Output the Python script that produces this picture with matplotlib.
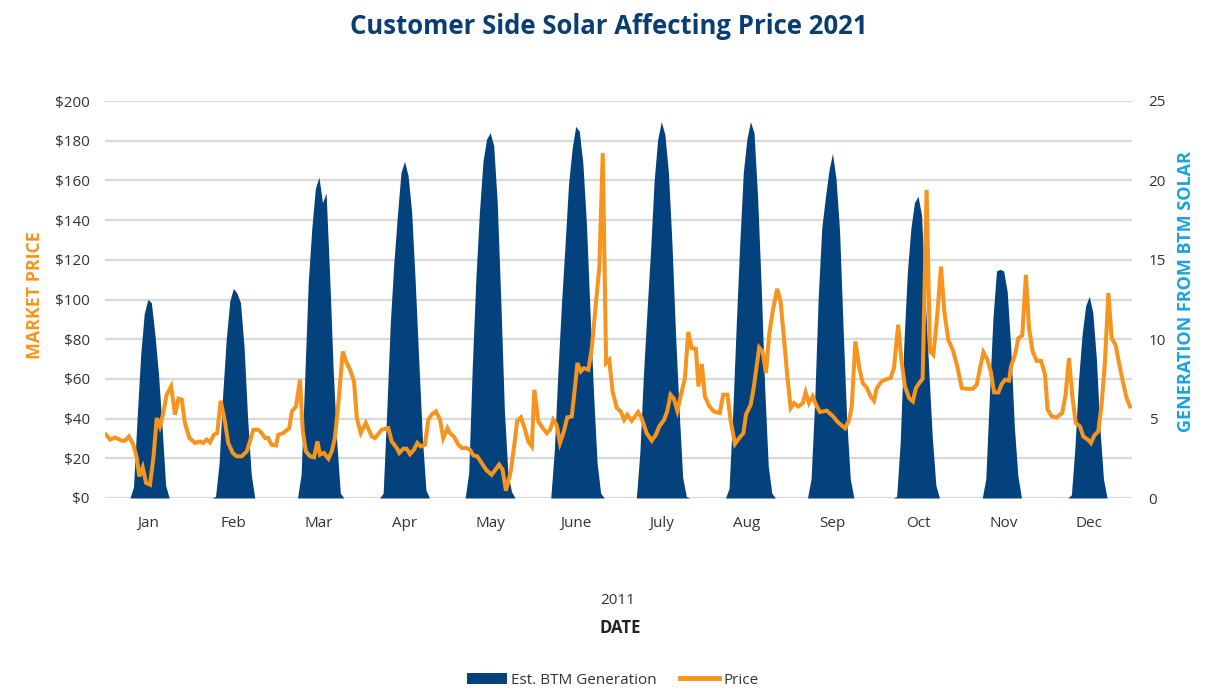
import numpy as np
import matplotlib
matplotlib.use("Agg")
import matplotlib.pyplot as plt
from matplotlib.patches import Patch
from matplotlib.lines import Line2D

plt.rcParams["font.family"] = ["Open Sans", "DejaVu Sans"]

months = ["Jan", "Feb", "Mar", "Apr", "May", "June",
          "July", "Aug", "Sep", "Oct", "Nov", "Dec"]

# typical-day hourly BTM generation (hour 0..23) for each month
gen_jan = [0, 0, 0, 0, 0, 0, 0, 0, 0.7, 5.0, 9.0, 11.6, 12.5, 12.3, 10.3, 7.8, 4.5, 0.8, 0, 0, 0, 0, 0, 0]
gen_feb = [0, 0, 0, 0, 0, 0, 0, 0.1, 2.2, 6.5, 10.0, 12.4, 13.2, 12.9, 12.3, 9.5, 5.0, 1.5, 0, 0, 0, 0, 0, 0]
gen_mar = [0, 0, 0, 0, 0, 0, 0, 1.5, 7.5, 13.6, 17.0, 19.5, 20.2, 18.6, 19.2, 14.0, 8.0, 3.5, 0.3, 0, 0, 0, 0, 0]
gen_apr = [0, 0, 0, 0, 0, 0, 0.3, 5.4, 11.0, 14.8, 17.8, 20.5, 21.2, 20.3, 18.0, 13.6, 8.6, 3.8, 0.5, 0, 0, 0, 0, 0]
gen_may = [0, 0, 0, 0, 0, 0, 1.6, 8.3, 13.8, 18.0, 21.2, 22.6, 23.0, 22.2, 18.6, 12.4, 5.5, 1.5, 0.4, 0, 0, 0, 0, 0]
gen_jun = [0, 0, 0, 0, 0, 0, 3.0, 7.9, 12.2, 15.9, 19.8, 22.0, 23.4, 23.1, 21.1, 17.3, 11.8, 6.6, 2.2, 0.3, 0, 0, 0, 0]
gen_jul = [0, 0, 0, 0, 0, 0, 2.9, 7.8, 11.8, 15.6, 20.0, 22.6, 23.7, 22.9, 20.5, 16.0, 10.3, 5.5, 1.3, 0.1, 0, 0, 0, 0]
gen_aug = [0, 0, 0, 0, 0, 0, 0, 0.6, 5.2, 10.8, 16.0, 20.5, 22.6, 23.7, 23.0, 19.0, 13.4, 6.9, 2.0, 0.3, 0, 0, 0, 0]
gen_sep = [0, 0, 0, 0, 0, 0, 1.2, 6.0, 12.6, 17.0, 18.9, 20.6, 21.7, 20.1, 16.8, 10.6, 4.9, 1.2, 0, 0, 0, 0, 0, 0]
gen_oct = [0, 0, 0, 0, 0, 0, 0.1, 3.5, 9.6, 14.2, 17.0, 18.6, 19.0, 17.8, 12.6, 8.1, 3.8, 0.8, 0, 0, 0, 0, 0, 0]
gen_nov = [0, 0, 0, 0, 0, 0, 0, 1.2, 6.4, 11.3, 14.3, 14.4, 14.3, 13.0, 9.5, 4.5, 1.4, 0, 0, 0, 0, 0, 0, 0]
gen_dec = [0, 0, 0, 0, 0, 0, 0, 0.2, 3.2, 7.4, 10.3, 12.1, 12.7, 11.7, 8.8, 4.4, 1.2, 0, 0, 0, 0, 0, 0, 0]

# market price ($) by day of year
price_day = [
    0.4, 1.8, 3.6, 5.9, 7.1, 8.5, 10.1, 11.3, 12.2, 13.4,
    14.6, 16.0, 17.2, 18.4, 19.5, 20.6, 21.9, 23.5, 24.9, 26.1,
    27.3, 28.4, 30.0, 32.0, 33.8, 34.9, 36.1, 37.3, 38.7, 39.9,
    41.1, 42.6, 43.8, 45.4,
    46.8, 48.6, 50.4, 51.5, 52.7, 54.5, 55.7, 56.9, 58.0, 59.2,
    60.8, 61.6, 63.4, 65.5, 66.4, 67.9, 69.3, 70.3, 71.4, 72.9,
    74.3, 75.5, 76.4, 77.8, 79.4, 80.6, 81.7, 82.9, 84.5, 85.9,
    87.1, 88.5, 89.5, 90.9, 92.7,
    94.8, 96.0, 98.3, 100.7, 101.9, 103.7, 104.6, 106.0, 107.2, 108.4,
    109.8, 111.0, 112.2, 113.7, 114.9, 116.1, 117.6, 119.1, 120.2, 121.7,
    122.6, 124.0, 125.6, 126.8, 128.5, 129.7, 130.9, 132.3, 133.9, 135.4,
    137.4,
    140.1, 141.3, 142.5, 144.2, 145.7, 146.5, 147.8, 149.3, 150.4, 151.7,
    152.6, 154.0, 155.6, 157.0, 158.2, 159.3, 160.5, 161.7, 163.1, 164.3,
    165.9, 167.0, 167.9, 169.1, 170.2, 171.8, 173.0, 174.1, 175.7, 176.9,
    178.1, 179.2, 180.4, 181.9, 183.3,
    184.5, 185.6, 187.2, 189.5, 190.7, 192.5, 194.3, 195.8, 197.0, 198.7,
    199.8, 201.0, 202.2, 203.4, 205.0, 206.1, 207.3, 208.5, 210.0, 210.9,
    212.1, 213.2, 214.8, 216.4, 218.5, 219.7, 221.2, 222.4, 223.9, 225.4,
    226.9, 227.8, 229.5,
    230.5, 232.5, 233.7, 234.9, 236.1, 237.5, 238.9, 240.1, 241.3, 242.5,
    243.7, 244.9, 246.4, 248.0, 249.0, 250.2, 251.5, 252.7, 254.1, 256.5,
    258.8, 260.2, 261.8, 263.0, 264.5, 265.4, 266.7, 268.1, 269.3, 270.7,
    272.1, 273.3, 274.3, 276.0, 277.2,
    279.2, 280.4, 281.9, 283.1, 284.3, 285.8, 287.1, 288.2, 289.4, 290.6,
    292.0, 293.2, 294.4, 295.8, 297.1, 298.3, 299.7, 301.3, 302.9, 304.5,
    306.5, 308.4, 309.8, 311.0, 312.2, 313.6, 314.8, 316.0, 317.5, 318.7,
    319.9, 321.3,
    322.0, 323.4, 324.6, 326.0, 327.3, 328.4, 329.7, 331.1, 332.7, 334.1,
    335.0, 336.5, 338.2, 340.2, 341.4, 342.6, 343.8, 345.0, 346.5, 347.7,
    349.3, 350.4, 351.6, 353.0, 354.2, 355.4, 356.6, 357.8, 359.2, 360.4,
    361.6, 363.1, 364.3,
]
price_usd = [
    31.9, 29.4, 30.5, 28.9, 28.9, 31.0, 26.8, 20.1, 10.9, 15.4,
    7.6, 6.7, 20.1, 40.3, 36.1, 42.0, 52.0, 56.2, 42.0, 50.0,
    49.5, 37.8, 30.2, 27.7, 28.5, 27.7, 29.4, 28.0, 31.9, 32.7,
    49.0, 38.6, 27.7, 22.7,
    21.0, 21.0, 23.5, 28.5, 34.4, 34.4, 32.7, 30.2, 30.2, 26.8,
    26.5, 31.9, 32.7, 35.2, 43.6, 46.1, 59.6, 33.6, 23.5, 21.0,
    20.5, 28.5, 21.8, 22.7, 19.8, 23.5, 30.2, 47.0, 73.8, 68.0,
    64.6, 58.7, 40.3, 32.7, 37.8,
    31.0, 30.2, 34.4, 35.2, 28.5, 25.2, 22.7, 24.8, 24.8, 22.1,
    24.3, 27.7, 26.0, 26.8, 39.4, 42.0, 43.6, 39.4, 30.2, 35.2,
    32.7, 31.0, 26.8, 25.2, 25.2, 24.3, 21.5, 21.0, 17.6, 14.3,
    11.7,
    16.8, 14.3, 3.7, 13.4, 29.4, 38.9, 40.6, 34.4, 28.5, 26.0,
    54.5, 38.6, 35.2, 32.7, 34.4, 39.4, 36.9, 27.7, 33.6, 40.6,
    41.1, 55.4, 68.0, 63.8, 65.4, 64.6, 75.5, 92.3, 116.6, 173.7,
    68.0, 69.6, 53.7, 45.3, 43.6,
    39.4, 42.0, 38.9, 43.3, 40.3, 32.7, 28.9, 31.9, 36.1, 39.4,
    43.6, 52.0, 50.0, 44.0, 53.7, 60.4, 83.6, 75.5, 75.2, 56.2,
    67.5, 51.2, 46.1, 43.6, 42.8, 52.0, 52.0, 38.6, 27.2, 30.2,
    32.7, 42.0, 47.0,
    55.0, 75.8, 73.8, 62.9, 83.0, 95.6, 105.4, 99.0, 80.5, 61.2,
    45.3, 47.8, 46.1, 47.8, 53.2, 47.8, 51.2, 47.0, 43.3, 44.0,
    41.1, 38.6, 36.6, 35.2, 39.4, 46.1, 78.9, 65.4, 57.9, 55.7,
    51.2, 49.0, 55.4, 58.7, 59.6,
    60.4, 65.4, 87.3, 68.8, 56.2, 50.3, 48.7, 55.4, 57.9, 60.1,
    155.2, 73.8, 72.1, 92.3, 116.6, 94.0, 79.7, 74.7, 66.3, 55.4,
    55.0, 55.0, 57.0, 65.4, 73.4, 69.6, 63.8, 53.2, 53.2, 57.4,
    59.6, 59.1,
    66.3, 72.1, 80.5, 81.9, 112.4, 85.6, 73.8, 69.1, 69.1, 62.1,
    44.5, 41.1, 40.6, 42.8, 52.0, 70.5, 51.2, 37.8, 36.1, 31.0,
    29.4, 27.7, 31.5, 33.6, 47.0, 68.8, 103.2, 80.5, 76.9, 68.0,
    59.6, 50.3, 46.1,
]
assert len(price_day) == len(price_usd)

NAVY = "#03427C"
ORANGE = "#F7941D"
SKY = "#1AA3DD"
TITLE = "#0A3D72"
TXT = "#333333"
GRID = "#D9D9D9"

gen_months = [gen_jan, gen_feb, gen_mar, gen_apr, gen_may, gen_jun,
              gen_jul, gen_aug, gen_sep, gen_oct, gen_nov, gen_dec]
month_len = 365 / 12
gen_x = []
gen_y = []
for m, prof in enumerate(gen_months):
    for h, v in enumerate(prof):
        gen_x.append((m + h / 24) * month_len)
        gen_y.append(v)
gen_x.append(365)
gen_y.append(0)

fig = plt.figure(figsize=(12.18, 6.92), dpi=100)
ax = fig.add_axes([105 / 1218, 1 - 498 / 692, 1027 / 1218, 397 / 692])
ax2 = ax.twinx()

# generation area (right axis), drawn underneath
ax2.fill_between(gen_x, gen_y, 0, color=NAVY, lw=0, zorder=3)
ax2.set_ylim(0, 25)
ax2.set_yticks(np.arange(0, 25.1, 2.5))
ax2.set_yticklabels([f"{v:g}" if v % 5 == 0 else "" for v in np.arange(0, 25.1, 2.5)])
ax2.grid(axis="y", color=GRID, lw=1.6)
ax2.set_axisbelow(True)

# price line (left axis), on top
ax.set_zorder(ax2.get_zorder() + 1)
ax.patch.set_visible(False)
ax.plot(price_day, price_usd, color=ORANGE, lw=2.9, solid_joinstyle="miter",
        zorder=5)
ax.set_ylim(0, 200)
ax.set_yticks(range(0, 201, 20))
ax.set_yticklabels([f"${v}" for v in range(0, 201, 20)])
ax.set_xlim(0, 365)
ax.set_xticks([(m + 0.5) * month_len for m in range(12)])
ax.set_xticklabels(months)

for a in (ax, ax2):
    for s in a.spines.values():
        s.set_visible(False)
    a.tick_params(length=0, labelsize=11, labelcolor=TXT)
ax.tick_params(axis="y", pad=11)
ax2.tick_params(axis="y", pad=12)
ax.tick_params(axis="x", pad=13)

fig.text(0.5, 0.962, "Customer Side Solar Affecting Price 2021", ha="center",
         va="center", fontsize=18.5, fontweight="bold", color=TITLE)
fig.text(35 / 1218, 0.574, "MARKET PRICE", rotation=90, ha="center",
         va="center", fontsize=12.8, fontweight="bold", color=ORANGE)
fig.text(1186 / 1218, 0.578, "GENERATION FROM BTM SOLAR", rotation=90,
         ha="center", va="center", fontsize=13, fontweight="bold", color=SKY)
fig.text(618 / 1218, 1 - 601 / 692, "2011", ha="center", va="center",
         fontsize=11, color=TXT)
fig.text(620 / 1218, 1 - 628 / 692, "DATE", ha="center", va="center",
         fontsize=12, fontweight="bold", color="#222222")

handles = [Patch(facecolor=NAVY, edgecolor="none", label="Est. BTM Generation"),
           Line2D([], [], color=ORANGE, lw=3.5, label="Price")]
fig.legend(handles=handles, loc="center", bbox_to_anchor=(613 / 1218, 1 - 680 / 692),
           ncol=2, frameon=False, fontsize=11, handlelength=2.6,
           handletextpad=0.3, columnspacing=1.5, labelcolor=TXT)

fig.savefig("out.png", dpi=100)
